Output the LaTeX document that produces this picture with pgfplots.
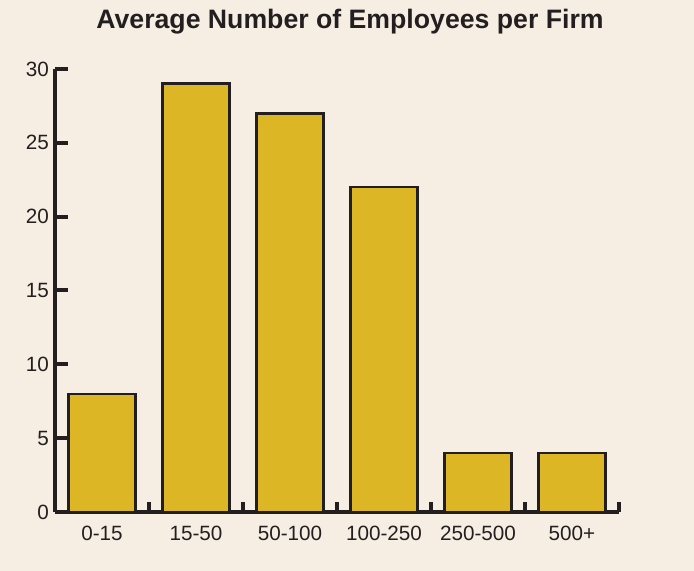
\documentclass[border=0pt]{standalone}
\usepackage{pgfplots}
\pgfplotsset{compat=1.18}
\usepackage{fontspec}
\setmainfont{Liberation Sans}
\definecolor{bg}{RGB}{246,238,226}
\definecolor{gold}{RGB}{221,182,38}
\definecolor{ink}{RGB}{35,31,32}
\begin{document}
\begin{tikzpicture}[x=0.75pt,y=0.75pt]
\fill[bg] (0,0) rectangle (694,571);
\node[font=\fontsize{20}{24}\selectfont\bfseries, text=ink] at (350,549) {Average Number of Employees per Firm};
\begin{axis}[
  at={(55*0.75pt,59*0.75pt)}, anchor=south west,
  scale only axis, width=423pt, height=332.25pt,
  xmin=-0.5, xmax=5.5, ymin=0, ymax=30,
  axis x line=bottom, axis y line=left,
  axis line style={ink, line width=3pt, -},
  xtick={0,...,5},
  xticklabels={0-15,15-50,50-100,100-250,250-500,500+},
  minor xtick={0.5,1.5,...,5.5},
  ytick={0,5,...,30},
  tick align=inside,
  major tick length=10pt, minor tick length=7.5pt,
  major x tick style={draw=none},
  minor x tick style={ink, line width=3pt},
  ytick style={ink, line width=3pt},
  tick label style={font=\fontsize{15.5}{18}\selectfont, text=ink},
  /pgf/number format/assume math mode=true,
  yticklabel style={xshift=-1pt},
  xticklabel style={yshift=-7pt},
  clip=false,
]
\addplot[ybar, bar width=0.713, bar shift=0, fill=gold, draw=ink, line width=2pt]
  coordinates {(0,8) (1,29) (2,27) (3,22) (4,4) (5,4)};
\end{axis}
\end{tikzpicture}
\end{document}
